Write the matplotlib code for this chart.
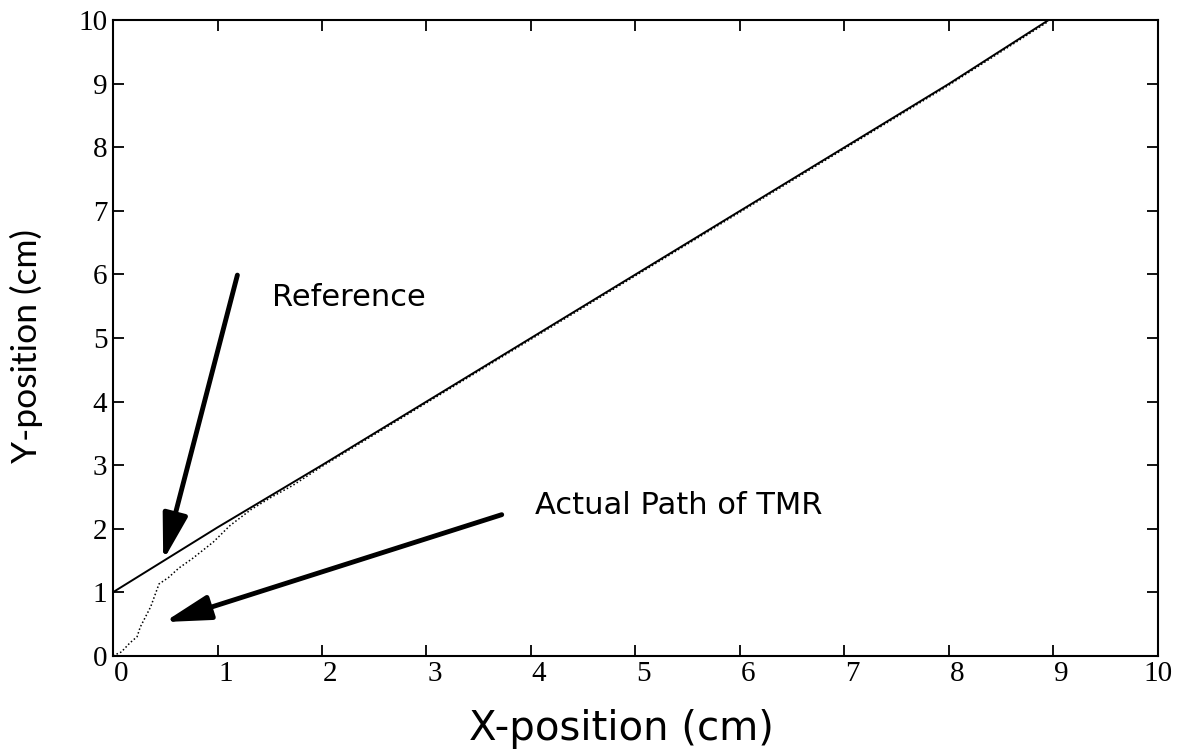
import matplotlib
matplotlib.use("Agg")
import matplotlib.pyplot as plt
from matplotlib.transforms import ScaledTranslation

# reference path (straight line offset by 1 cm)
ref_x = [0.0, 1.0, 2.0, 3.0, 4.0, 5.0, 6.0, 7.0, 8.0, 8.95]
ref_y = [1.0, 2.02, 3.0, 4.0, 5.0, 6.0, 7.0, 8.0, 9.0, 10.0]

# actual path of TMR
tmr_x = [0.0, 0.08, 0.16, 0.23, 0.26, 0.36, 0.44, 0.53, 0.63, 0.76, 0.96, 1.12,
         1.32, 1.52, 1.72, 2.0, 3.0, 4.0, 5.0, 6.0, 7.0, 8.0, 8.95]
tmr_y = [0.0, 0.06, 0.2, 0.3, 0.45, 0.77, 1.13, 1.23, 1.38, 1.53, 1.79, 2.05,
         2.3, 2.5, 2.68, 2.98, 3.98, 4.98, 5.98, 6.98, 7.98, 8.98, 9.98]

ticks = list(range(0, 11))
tick_labels = [str(t) for t in ticks]

fig = plt.figure(figsize=(11.9, 7.52), dpi=100)
ax = fig.add_axes([0.095, 0.128, 0.878, 0.845])

ax.plot(tmr_x, tmr_y, color="black", lw=1.1, ls=(0, (1, 1.5)))
ax.plot(ref_x, ref_y, color="black", lw=1.4)

ax.set_xlim(0, 10)
ax.set_ylim(0, 10)
ax.set_xticks(ticks)
ax.set_yticks(ticks)
ax.set_xticklabels(tick_labels, family="Liberation Serif", fontsize=21)
ax.set_yticklabels(tick_labels, family="Liberation Serif", fontsize=21)
ax.tick_params(direction="in", top=True, right=True, length=8, width=1.3, pad=4)
for s in ax.spines.values():
    s.set_linewidth(1.5)

# x tick labels in the scan sit a little right of their ticks
shift = ScaledTranslation(8 / 100, 0, fig.dpi_scale_trans)
for lab in ax.get_xticklabels()[:-1]:
    lab.set_transform(lab.get_transform() + shift)

ax.set_xlabel("X-position (cm)", family="DejaVu Sans", fontsize=29)
ax.set_ylabel("Y-position (cm)", family="Lato", fontsize=25.5)
ax.xaxis.set_label_coords(0.487, -0.084)
ax.yaxis.set_label_coords(-0.067, 0.487)

arrow = dict(arrowstyle="-|>,head_length=1.4,head_width=0.38", lw=3.5,
             color="black", mutation_scale=20, shrinkA=0, shrinkB=0)
ax.annotate("", xy=(0.48, 1.5), xytext=(1.19, 5.99), arrowprops=arrow)
ax.annotate("", xy=(0.49, 0.53), xytext=(3.72, 2.22), arrowprops=arrow)

ax.text(1.52, 5.63, "Reference", family="DejaVu Sans", fontsize=22, va="center")
ax.text(4.04, 2.37, "Actual Path of TMR", family="DejaVu Sans", fontsize=22,
        va="center")

fig.savefig("out.png")
